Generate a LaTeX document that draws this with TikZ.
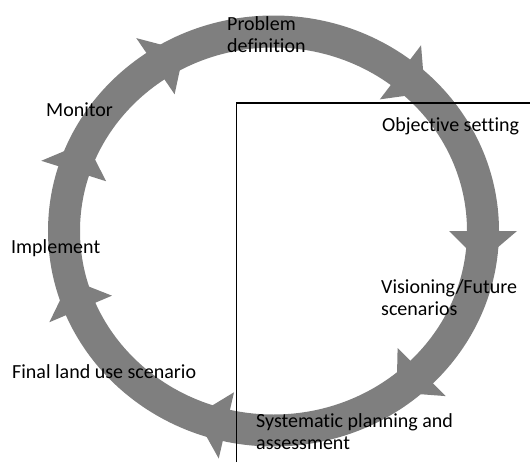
\documentclass[tikz,border=0pt]{standalone}
\usepackage{fontspec}
\setmainfont{Carlito}[Ligatures=NoCommon]
\usetikzlibrary{calc}
\definecolor{ringgray}{RGB}{127,127,127}
\tikzset{
  steplabel/.style={anchor=base west, inner sep=0pt, align=left, font=\fontsize{20}{22}\selectfont},
  frameline/.style={line width=1.5pt},
}

\begin{document}
\begin{tikzpicture}[x=1pt, y=-1pt]
\useasboundingbox (0,0) rectangle (530,466);

\coordinate (c) at (273.5,231);
\def\rx{209.5}
\def\ry{199.5}

% cycle ring with arrow heads
\draw[ringgray, line width=32pt] (c) ellipse [x radius=\rx, y radius=\ry];
\foreach \a in {0,45,103,157,197.5,235.7,307.3}
  \fill[ringgray] ($(c)+(\a:{\rx+34} and {\ry+34})$) -- ($(c)+(\a+9:{\rx} and {\ry})$)
    -- ($(c)+(\a:{\rx-34} and {\ry-34})$) -- cycle;

% frame
\coordinate (corner) at (236.5,103);
\coordinate (bottom) at (236.5,462);
\coordinate (right) at (530,103);
\draw[frameline] (bottom) -- (corner) -- (right);

% labels (two-line labels sit on their last baseline)
\node[steplabel] (problem)   at (227,52)  {Problem\\definition};
\node[steplabel] (objective) at (382,131) {Objective setting};
\node[steplabel] (visioning) at (381,315) {Visioning/Future\\scenarios};
\node[steplabel] (planning)  at (256,449) {Systematic planning and\\assessment};
\node[steplabel] (final)     at (12,378)  {Final land use scenario};
\node[steplabel] (implement) at (11,253)  {Implement};
\node[steplabel] (monitor)   at (46,116)  {Monitor};

\end{tikzpicture}
\end{document}
